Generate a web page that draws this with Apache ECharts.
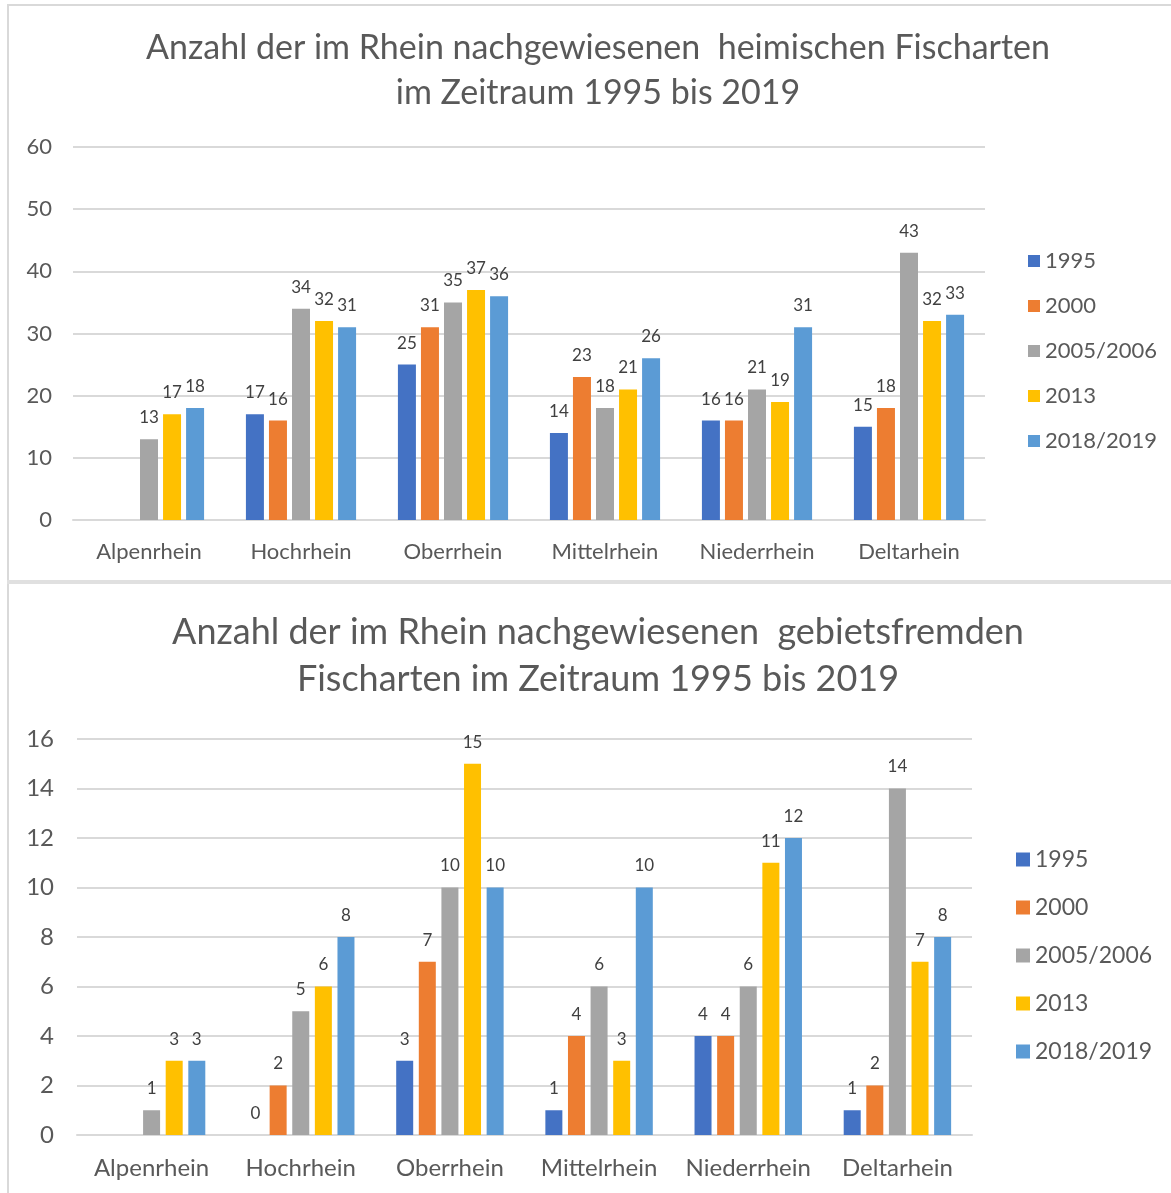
<!DOCTYPE html>
<html>
<head>
<meta charset="utf-8">
<script src="https://cdn.jsdelivr.net/npm/echarts@6/dist/echarts.min.js"></script>
<style>
  html, body { margin: 0; padding: 0; background: #fff; }
  #main { width: 1171px; height: 1193px; }
</style>
</head>
<body>
<div id="main"></div>
<script>
  // Rheinabschnitte und Erhebungsjahre
  const regions = ['Alpenrhein', 'Hochrhein', 'Oberrhein', 'Mittelrhein', 'Niederrhein', 'Deltarhein'];
  const years = ['1995', '2000', '2005/2006', '2013', '2018/2019'];
  const colors = ['#4472C4', '#ED7D31', '#A5A5A5', '#FFC000', '#5B9BD5'];

  // heimische Fischarten (oben)
  const native1995 = [null, 17, 25, 14, 16, 15];
  const native2000 = [null, 16, 31, 23, 16, 18];
  const native2005 = [13, 34, 35, 18, 21, 43];
  const native2013 = [17, 32, 37, 21, 19, 32];
  const native2018 = [18, 31, 36, 26, 31, 33];

  // gebietsfremde Fischarten (unten)
  const alien1995 = [null, 0, 3, 1, 4, 1];
  const alien2000 = [null, 2, 7, 4, 4, 2];
  const alien2005 = [1, 5, 10, 6, 6, 14];
  const alien2013 = [3, 6, 15, 3, 11, 7];
  const alien2018 = [3, 8, 10, 10, 12, 8];

  const nativeSeries = [native1995, native2000, native2005, native2013, native2018];
  const alienSeries = [alien1995, alien2000, alien2005, alien2013, alien2018];

  const FONT = 'Lato';
  const GRID_COLOR = '#d9d9d9';
  const TEXT_COLOR = '#595959';

  function makeSeries(list, idx, barWidth, barGap) {
    return list.map((values, i) => ({
      name: years[i],
      type: 'bar',
      xAxisIndex: idx,
      yAxisIndex: idx,
      data: values,
      barWidth: barWidth,
      barGap: barGap,
      itemStyle: { color: colors[i] },
      label: {
        show: true,
        position: 'top',
        distance: 13,
        color: '#404040',
        fontFamily: FONT,
        fontSize: 17
      }
    }));
  }

  function catAxis(idx, size) {
    return {
      type: 'category',
      gridIndex: idx,
      data: regions,
      axisLine: { lineStyle: { color: GRID_COLOR, width: 2 } },
      axisTick: { show: false },
      axisLabel: { interval: 0, color: TEXT_COLOR, fontFamily: FONT, fontSize: size, margin: 21 }
    };
  }

  function valAxis(idx, max, interval, margin, size) {
    return {
      type: 'value',
      gridIndex: idx,
      min: 0,
      max: max,
      interval: interval,
      axisLine: { show: false },
      axisTick: { show: false },
      splitLine: { lineStyle: { color: GRID_COLOR, width: 2 } },
      axisLabel: { color: TEXT_COLOR, fontFamily: FONT, fontSize: size, margin: margin }
    };
  }

  const chart = echarts.init(document.getElementById('main'));

  const option = {
    animation: false,
    textStyle: { fontFamily: FONT },
    title: [
      {
        text: 'Anzahl der im Rhein nachgewiesenen  heimischen Fischarten\nim Zeitraum 1995 bis 2019',
        left: 593,
        top: 21,
        textAlign: 'center',
        textStyle: { color: TEXT_COLOR, fontFamily: FONT, fontSize: 34, fontWeight: 'normal', lineHeight: 45 }
      },
      {
        text: 'Anzahl der im Rhein nachgewiesenen  gebietsfremden\nFischarten im Zeitraum 1995 bis 2019',
        left: 593,
        top: 604,
        textAlign: 'center',
        textStyle: { color: TEXT_COLOR, fontFamily: FONT, fontSize: 36, fontWeight: 'normal', lineHeight: 47 }
      }
    ],
    legend: [
      {
        orient: 'vertical',
        left: 1028,
        top: 250,
        padding: 0,
        itemWidth: 12,
        itemHeight: 12,
        itemGap: 23,
        icon: 'rect',
        data: years,
        textStyle: { color: TEXT_COLOR, fontFamily: FONT, fontSize: 22 }
      },
      {
        orient: 'vertical',
        left: 1016,
        top: 848,
        padding: 0,
        itemWidth: 14,
        itemHeight: 14,
        itemGap: 25,
        icon: 'rect',
        data: years,
        textStyle: { color: TEXT_COLOR, fontFamily: FONT, fontSize: 23 }
      }
    ],
    grid: [
      { left: 73, right: 186, top: 147, bottom: 673 },
      { left: 77, right: 199, top: 739, bottom: 58 }
    ],
    xAxis: [catAxis(0, 22), catAxis(1, 24)],
    yAxis: [valAxis(0, 60, 10, 21, 22), valAxis(1, 16, 2, 23, 24)],
    series: makeSeries(nativeSeries, 0, 18, '28%').concat(makeSeries(alienSeries, 1, 17, '33%')),
    graphic: [
      { type: 'rect', shape: { x: 7, y: 4, width: 1164, height: 2 }, style: { fill: '#d9d9d9' } },
      { type: 'rect', shape: { x: 7, y: 4, width: 2, height: 1189 }, style: { fill: '#d9d9d9' } },
      { type: 'rect', shape: { x: 7, y: 580, width: 1164, height: 4 }, style: { fill: '#e0e0e0' } }
    ]
  };

  chart.setOption(option);
</script>
</body>
</html>
